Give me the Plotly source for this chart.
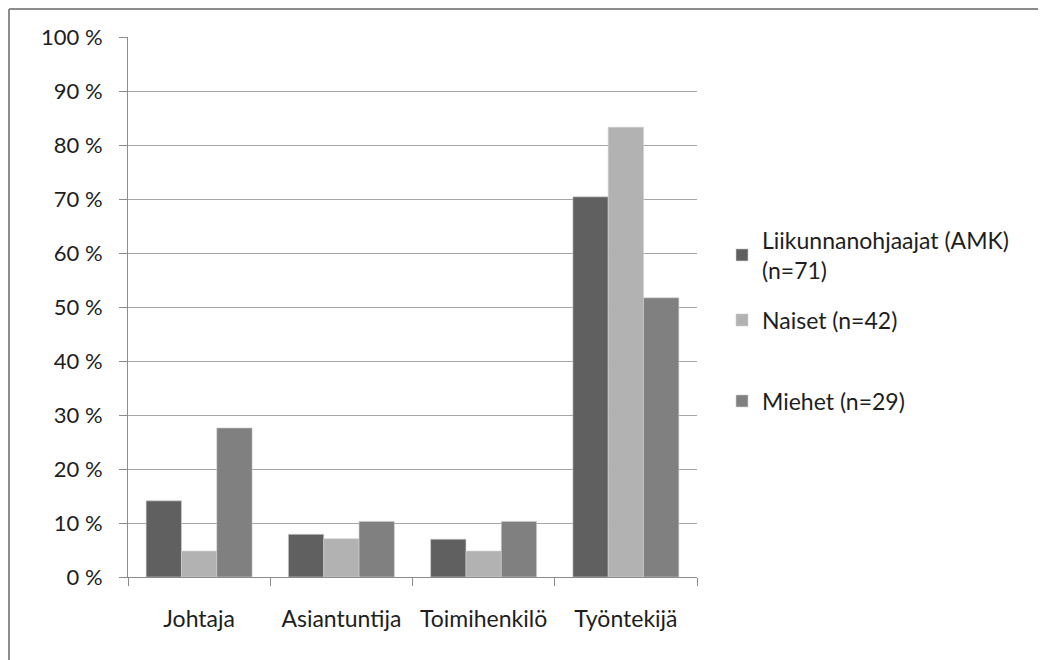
import plotly.graph_objects as go

categories = ["Johtaja", "Asiantuntija", "Toimihenkilö", "Työntekijä"]
series_names = ["Liikunnanohjaajat (AMK)<br>(n=71)", "Naiset (n=42)", "Miehet (n=29)"]
liikunnanohjaajat = [14.1, 7.9, 7.0, 70.4]
naiset = [4.8, 7.1, 4.8, 83.3]
miehet = [27.6, 10.3, 10.3, 51.7]
colors = ["#606060", "#b2b2b2", "#808080"]
y_ticks = [0, 10, 20, 30, 40, 50, 60, 70, 80, 90, 100]
y_tick_labels = [f"{v} %" for v in y_ticks]

font_family = "Lato, Open Sans, sans-serif"
FS = 23
FS_Y = 22
TXT = "#1e1e1e"

# page has an 8px body margin; plot area target in page px: x 128-697, y 37-577
L, T = 120, 29
PW, PH = 569, 540
W, H = 1046, 660

fig = go.Figure()
legend_ids = ["legend", "legend2", "legend3"]
for i, (name, vals) in enumerate(zip(series_names, [liikunnanohjaajat, naiset, miehet])):
    fig.add_trace(go.Bar(
        x=categories, y=vals, name=name,
        marker=dict(color=colors[i], line=dict(color="#d0d0d0", width=0.6)),
        legend=legend_ids[i],
    ))

def px_to_paper_y(page_y):
    return (577 - page_y) / PH

leg_x = (722 - 128) / PW
leg_common = dict(x=leg_x, xanchor="left", yanchor="middle",
                  font=dict(family=font_family, size=FS, color=TXT),
                  bgcolor="rgba(0,0,0,0)")

fig.update_layout(
    width=W, height=H,
    margin=dict(l=L, r=W - L - PW, t=T, b=H - T - PH),
    paper_bgcolor="white", plot_bgcolor="white",
    barmode="group", bargap=0.255, bargroupgap=0,
    font=dict(family=font_family, size=FS, color=TXT),
    showlegend=True,
    legend=dict(y=px_to_paper_y(255), **leg_common),
    legend2=dict(y=px_to_paper_y(320), **leg_common),
    legend3=dict(y=px_to_paper_y(401), **leg_common),
    xaxis=dict(
        showline=True, linecolor="#8c8c8c", linewidth=1,
        ticks="outside", ticklen=8, tickcolor="#8c8c8c", tickson="boundaries",
        showgrid=False, ticklabelstandoff=21,
        tickfont=dict(size=FS, color=TXT),
    ),
    yaxis=dict(
        range=[0, 100], tickvals=y_ticks, ticktext=y_tick_labels,
        showline=True, linecolor="#8c8c8c", linewidth=1,
        ticks="outside", ticklen=8, tickcolor="#8c8c8c",
        showgrid=True, gridcolor="#a6a6a6", gridwidth=1.2,
        zeroline=False, ticklabelstandoff=12,
        tickfont=dict(size=FS_Y, color=TXT),
    ),
)

# chart frame (top and left edges), at the figure's top-left edge
fig.add_shape(type="line", xref="paper", yref="paper",
              x0=(1 - L) / PW, x1=(W - L) / PW,
              y0=(PH + T - 1) / PH, y1=(PH + T - 1) / PH,
              line=dict(color="#8c8c8c", width=2))
fig.add_shape(type="line", xref="paper", yref="paper",
              x0=(1 - L) / PW, x1=(1 - L) / PW,
              y0=(PH + T - 1) / PH, y1=(PH + T - H) / PH,
              line=dict(color="#8c8c8c", width=2))

fig.write_html("out.html")
